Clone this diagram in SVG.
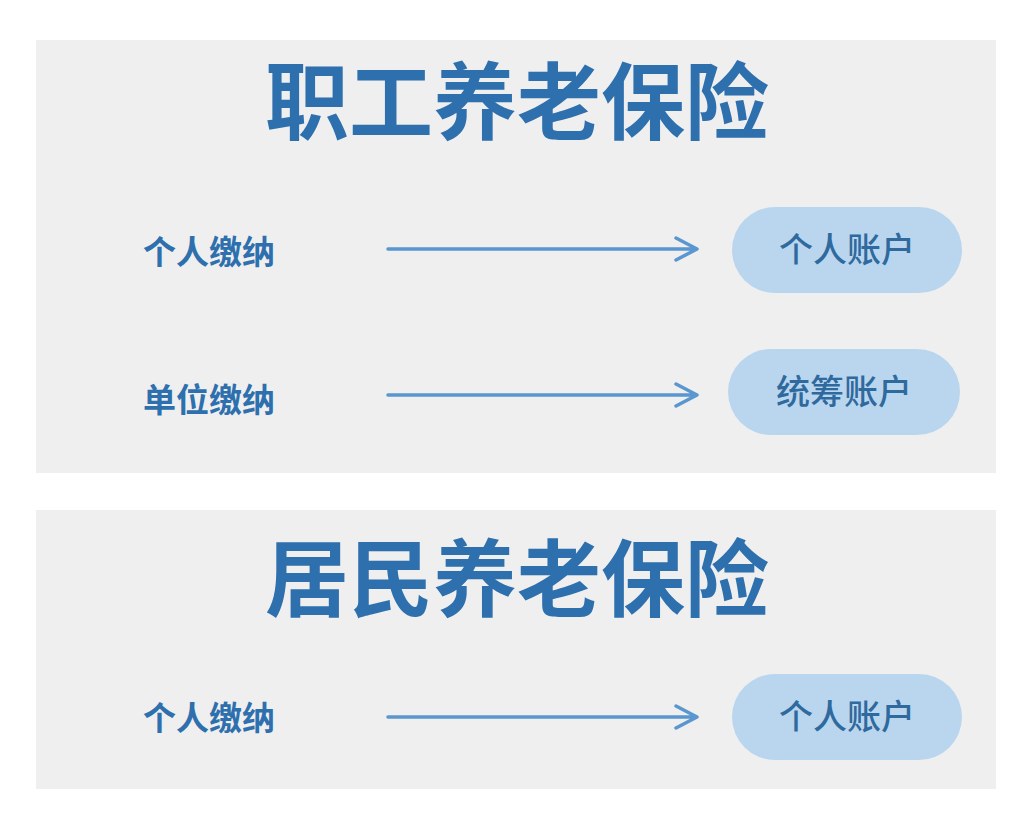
<svg xmlns="http://www.w3.org/2000/svg" width="1024" height="826" viewBox="0 0 1024 826">
<style>
.panel{fill:#efefef}
.title{font-family:"Noto Sans CJK SC",sans-serif;font-weight:700;font-size:84px;fill:#2e6fae;text-anchor:middle}
.lbl{font-family:"Noto Sans CJK SC",sans-serif;font-weight:700;font-size:33px;fill:#2e6fae}
.pill{fill:#bad6ef}
.ptxt{font-family:"Noto Sans CJK SC",sans-serif;font-weight:500;font-size:34px;fill:#2f6a9e;text-anchor:middle}
.arr{stroke:#5a96cf;stroke-width:3.5;fill:none;stroke-linecap:round;stroke-linejoin:round}
</style>
<rect width="1024" height="826" fill="#fff"/>
<rect class="panel" x="36" y="40" width="960" height="433"/>
<rect class="panel" x="36" y="510" width="960" height="279"/>
<text class="title" x="517" y="133">职工养老保险</text>
<text class="title" x="517" y="610">居民养老保险</text>
<g id="src1"><text class="lbl" x="143" y="264">个人缴纳</text></g>
<g id="src2"><text class="lbl" x="143" y="412">单位缴纳</text></g>
<g id="src3"><text class="lbl" x="143" y="730">个人缴纳</text></g>
<g id="acc1"><rect class="pill" x="732" y="207" width="230" height="86" rx="43"/><text class="ptxt" x="847" y="262">个人账户</text></g>
<g id="acc2"><rect class="pill" x="728" y="349" width="232" height="86" rx="43"/><text class="ptxt" x="844" y="404">统筹账户</text></g>
<g id="acc3"><rect class="pill" x="732" y="674" width="230" height="86" rx="43"/><text class="ptxt" x="847" y="729">个人账户</text></g>
<g id="connectors">
<path class="arr" d="M388 249H696M676 238L697 249L676 260"/>
<path class="arr" d="M388 395H696M676 384L697 395L676 406"/>
<path class="arr" d="M388 717H696M676 706L697 717L676 728"/>
</g>
</svg>
